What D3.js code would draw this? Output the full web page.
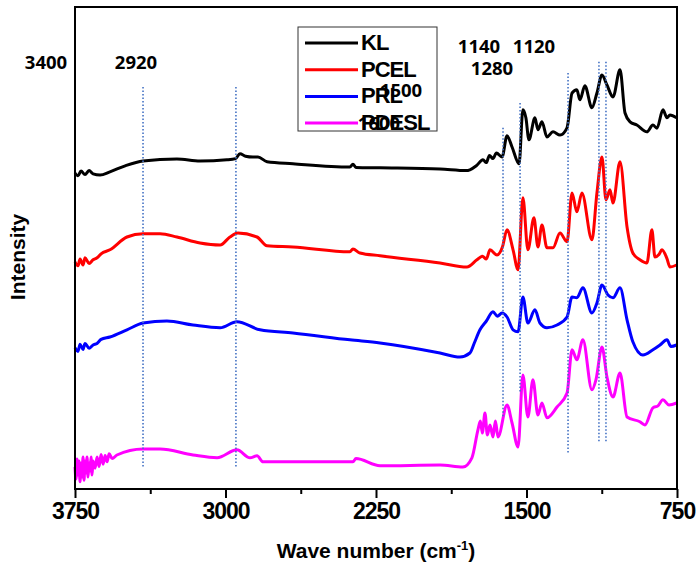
<!DOCTYPE html>
<html>
<head>
<meta charset="utf-8">
<script src="https://cdn.jsdelivr.net/npm/d3@7"></script>
<style>
  body { margin: 0; background: #fff; }
  svg { display: block; }
</style>
</head>
<body>
<svg id="mysvg" width="698" height="569"></svg>
<script>
// FTIR spectra, stacked (arbitrary intensity units)
const seriesNames = ["KL", "PCEL", "PRL", "PDESL"];
const seriesColors = ["#000000", "#ff0000", "#0000ff", "#ff00ff"];

const waveKL = [3750, 3735, 3720, 3700, 3680, 3660, 3625, 3576, 3500, 3411, 3242, 3127, 2993, 2950, 2928, 2900, 2863, 2838, 2793, 2664, 2380, 2365, 2350, 2230, 1931, 1800, 1782, 1750, 1717, 1700, 1685, 1667, 1650, 1622, 1597, 1572, 1537, 1518, 1503, 1488, 1458, 1443, 1423, 1398, 1368, 1333, 1298, 1273, 1249, 1234, 1209, 1174, 1149, 1124, 1099, 1069, 1034, 1009, 984, 950, 900, 870, 850, 820, 800, 785, 752];
const intKL = [79, 78.3, 79.5, 78.6, 79.6, 78.8, 78.5, 79.3, 80.8, 82, 82.5, 82, 82.3, 82.6, 83.8, 83.2, 83, 83, 81.8, 81.3, 80.5, 81.2, 80.4, 80.3, 80, 79.6, 79.8, 80.8, 82.3, 81.6, 83.4, 82.6, 84, 83, 88.3, 85.5, 81.3, 94.8, 92.8, 87.3, 92.8, 89.8, 91.8, 88, 89.3, 88.5, 90.3, 99, 99.8, 97.3, 100.8, 95.3, 99, 103.5, 101, 98, 104.8, 94, 91.8, 91, 89.3, 91, 90.2, 94.8, 92.8, 93.5, 92.8];

const wavePCEL = [3750, 3735, 3725, 3710, 3700, 3680, 3660, 3640, 3620, 3576, 3491, 3411, 3326, 3242, 3127, 3027, 2978, 2938, 2843, 2793, 2664, 2380, 2365, 2330, 2230, 1931, 1797, 1747, 1720, 1700, 1682, 1647, 1620, 1597, 1567, 1542, 1518, 1493, 1463, 1443, 1423, 1398, 1368, 1333, 1298, 1273, 1249, 1224, 1174, 1149, 1124, 1104, 1084, 1069, 1034, 999, 970, 935, 900, 875, 860, 840, 825, 800, 785, 752];
const intPCEL = [56.8, 55.8, 57.5, 56, 57.8, 56.4, 57.3, 57.8, 58.8, 59.8, 63, 63.8, 63.8, 63, 61.5, 61, 63, 64, 63, 60.8, 60.5, 59.3, 60, 59, 58.3, 56.5, 55.5, 57.3, 58.2, 57.5, 59.8, 58.5, 60.5, 64.8, 59.8, 54.8, 72.8, 59.8, 67.8, 60.5, 66, 60.3, 60.3, 64, 61.8, 74, 69.3, 74, 62.3, 74, 83, 72.3, 74.8, 71.5, 81.8, 65.5, 59, 57.3, 56.5, 64.8, 58, 58.6, 59.8, 57.6, 55.5, 56];

const wavePRL = [3750, 3735, 3725, 3710, 3700, 3680, 3660, 3640, 3620, 3576, 3491, 3411, 3292, 3162, 3027, 2943, 2828, 2664, 2380, 2230, 1931, 1832, 1782, 1760, 1732, 1700, 1667, 1645, 1622, 1597, 1567, 1542, 1518, 1493, 1458, 1433, 1398, 1348, 1298, 1273, 1249, 1219, 1174, 1149, 1124, 1094, 1069, 1034, 999, 970, 920, 870, 835, 800, 780, 752];
const intPRL = [35.3, 34.4, 36.2, 34.9, 36.4, 35.2, 36, 36.4, 37.4, 38, 39.8, 41.5, 42, 41, 40.3, 41.8, 39.8, 39, 37.3, 36.5, 34, 33, 34, 36.5, 39.8, 42, 44.3, 43.2, 44, 43, 39.8, 39.3, 48, 41.5, 44.8, 41.5, 40.3, 41, 43, 48, 47.8, 50.3, 44, 46.5, 51, 48.5, 47.8, 50.3, 42.3, 36.8, 33.5, 34.8, 36, 37.3, 35.6, 36];

const wavePDESL = [3750, 3745, 3740, 3735, 3730, 3725, 3720, 3715, 3710, 3705, 3700, 3695, 3690, 3685, 3680, 3675, 3670, 3665, 3660, 3650, 3640, 3630, 3620, 3610, 3600, 3590, 3580, 3565, 3541, 3411, 3326, 3162, 3042, 2943, 2878, 2843, 2813, 2365, 2350, 2230, 1931, 1817, 1772, 1742, 1730, 1720, 1707, 1695, 1682, 1667, 1655, 1642, 1597, 1572, 1542, 1518, 1493, 1468, 1443, 1423, 1398, 1348, 1298, 1273, 1249, 1219, 1174, 1154, 1124, 1099, 1069, 1034, 999, 935, 910, 870, 845, 820, 790, 752];
const intPDESL = [5.5, 2.5, 7.5, 3.5, 7, 1.8, 6.5, 3, 8, 2.2, 7, 4, 8, 3, 6.5, 4.5, 8, 3.5, 7, 5.2, 8, 5.6, 8.6, 6.2, 8.4, 6.8, 8.8, 7.6, 8.5, 10, 10, 8.5, 7.8, 9.8, 7.8, 8.3, 6.8, 6.8, 7.6, 5.8, 6, 5.5, 7.8, 14.8, 17, 14, 19, 13.5, 16, 13, 17, 13, 21, 16.5, 10.5, 28.5, 18, 27.3, 18.5, 21.5, 17.8, 20.5, 24, 34.8, 32.3, 37.3, 24.8, 27.3, 35.5, 28, 23, 29, 18, 16.8, 16, 20.3, 20.8, 22.3, 21, 21.5];

// peak marker lines: wavenumber, low and high end (intensity units)
const markWave = [3411, 2948, 1617, 1532, 1293, 1139, 1104];
const markLow = [5.3, 5.3, 17.8, 24, 9, 11.8, 11.8];
const markHigh = [100.5, 100.5, 90.3, 96.5, 104, 106.8, 106.8];

// peak labels
const peakText = ["3400", "2920", "1140", "1120", "1280", "1500", "1600"];
const peakX = [46, 136, 479, 534, 492, 401, 379];
const peakY = [69, 69, 53, 53, 75, 97, 130];

const xTicks = [3750, 3000, 2250, 1500, 750];
const xMinor = [3375, 2625, 1875, 1125];

const svg = d3.select("#mysvg");
const plotLeft = 75, plotRight = 677, plotTop = 7, plotBottom = 489;

const x = d3.scaleLinear().domain([3750, 750]).range([plotLeft, plotRight]);
const y = d3.scaleLinear().domain([0, 120.5]).range([plotBottom, plotTop]);

const waves = [waveKL, wavePCEL, wavePRL, wavePDESL];
const ints = [intKL, intPCEL, intPRL, intPDESL];

const line = d3.line()
  .x((d) => x(d[0]))
  .y((d) => y(d[1]))
  .curve(d3.curveMonotoneX);

// spectra
waves.forEach((w, i) => {
  const pts = w.map((v, j) => [v, ints[i][j]]);
  svg.append("path")
    .datum(pts)
    .attr("fill", "none")
    .attr("stroke", seriesColors[i])
    .attr("stroke-width", 3)
    .attr("stroke-linejoin", "round")
    .attr("d", line);
});

// dotted peak lines
markWave.forEach((v, i) => {
  svg.append("line")
    .attr("x1", x(v)).attr("x2", x(v))
    .attr("y1", y(markHigh[i])).attr("y2", y(markLow[i]))
    .attr("stroke", "#4472c4")
    .attr("stroke-width", 1.6)
    .attr("stroke-dasharray", "1.5,2");
});

// frame
svg.append("rect")
  .attr("x", plotLeft).attr("y", plotTop)
  .attr("width", plotRight - plotLeft).attr("height", plotBottom - plotTop)
  .attr("fill", "none")
  .attr("stroke", "#000")
  .attr("stroke-width", 2);

// x axis with major and minor ticks
const xAxis = d3.axisBottom(x)
  .tickValues(xTicks)
  .tickSize(9)
  .tickPadding(5)
  .tickFormat(d3.format("d"));
const gx = svg.append("g").attr("transform", `translate(0,${plotBottom})`).call(xAxis);
gx.select(".domain").remove();
gx.selectAll(".tick line").attr("stroke-width", 2);
gx.selectAll(".tick text")
  .attr("font-family", "Liberation Sans, Arial, sans-serif")
  .attr("font-weight", "bold")
  .attr("font-size", 23)
  .attr("letter-spacing", -1)
  .attr("fill", "#000");

const gm = svg.append("g").attr("transform", `translate(0,${plotBottom})`)
  .call(d3.axisBottom(x).tickValues(xMinor).tickSize(5).tickFormat(""));
gm.select(".domain").remove();
gm.selectAll(".tick line").attr("stroke-width", 2);

// axis titles
const title = svg.append("text")
  .attr("x", (plotLeft + plotRight) / 2)
  .attr("y", 558)
  .attr("text-anchor", "middle")
  .attr("font-family", "Liberation Sans, Arial, sans-serif")
  .attr("font-weight", "bold")
  .attr("font-size", 21);
title.append("tspan").text("Wave number (cm");
title.append("tspan").attr("font-size", 13).attr("dy", -8).text("-1");
title.append("tspan").attr("dy", 8).text(")");

svg.append("text")
  .attr("transform", "translate(25,257) rotate(-90)")
  .attr("text-anchor", "middle")
  .attr("font-family", "Liberation Sans, Arial, sans-serif")
  .attr("font-weight", "bold")
  .attr("font-size", 21)
  .text("Intensity");

// legend
svg.append("rect")
  .attr("x", 298).attr("y", 27)
  .attr("width", 139).attr("height", 104)
  .attr("fill", "none")
  .attr("stroke", "#333")
  .attr("stroke-width", 1);

seriesNames.forEach((name, i) => {
  const ly = 43 + i * 26.7;
  svg.append("line")
    .attr("x1", 305).attr("x2", 358)
    .attr("y1", ly).attr("y2", ly)
    .attr("stroke", seriesColors[i])
    .attr("stroke-width", 3);
  svg.append("text")
    .attr("x", 361).attr("y", ly + 7)
    .attr("font-family", "Liberation Sans, Arial, sans-serif")
    .attr("font-weight", "bold")
    .attr("font-size", 22)
    .attr("letter-spacing", -1)
    .text(name);
});

// peak labels (1500 and 1600 sit under the legend text, as in the source figure)
peakText.forEach((t, i) => {
  svg.append("text")
    .attr("x", peakX[i]).attr("y", peakY[i])
    .attr("text-anchor", "middle")
    .attr("font-family", "Open Sans, sans-serif")
    .attr("font-weight", "bold")
    .attr("font-size", 18.5)
    .text(t);
});
</script>
</body>
</html>
